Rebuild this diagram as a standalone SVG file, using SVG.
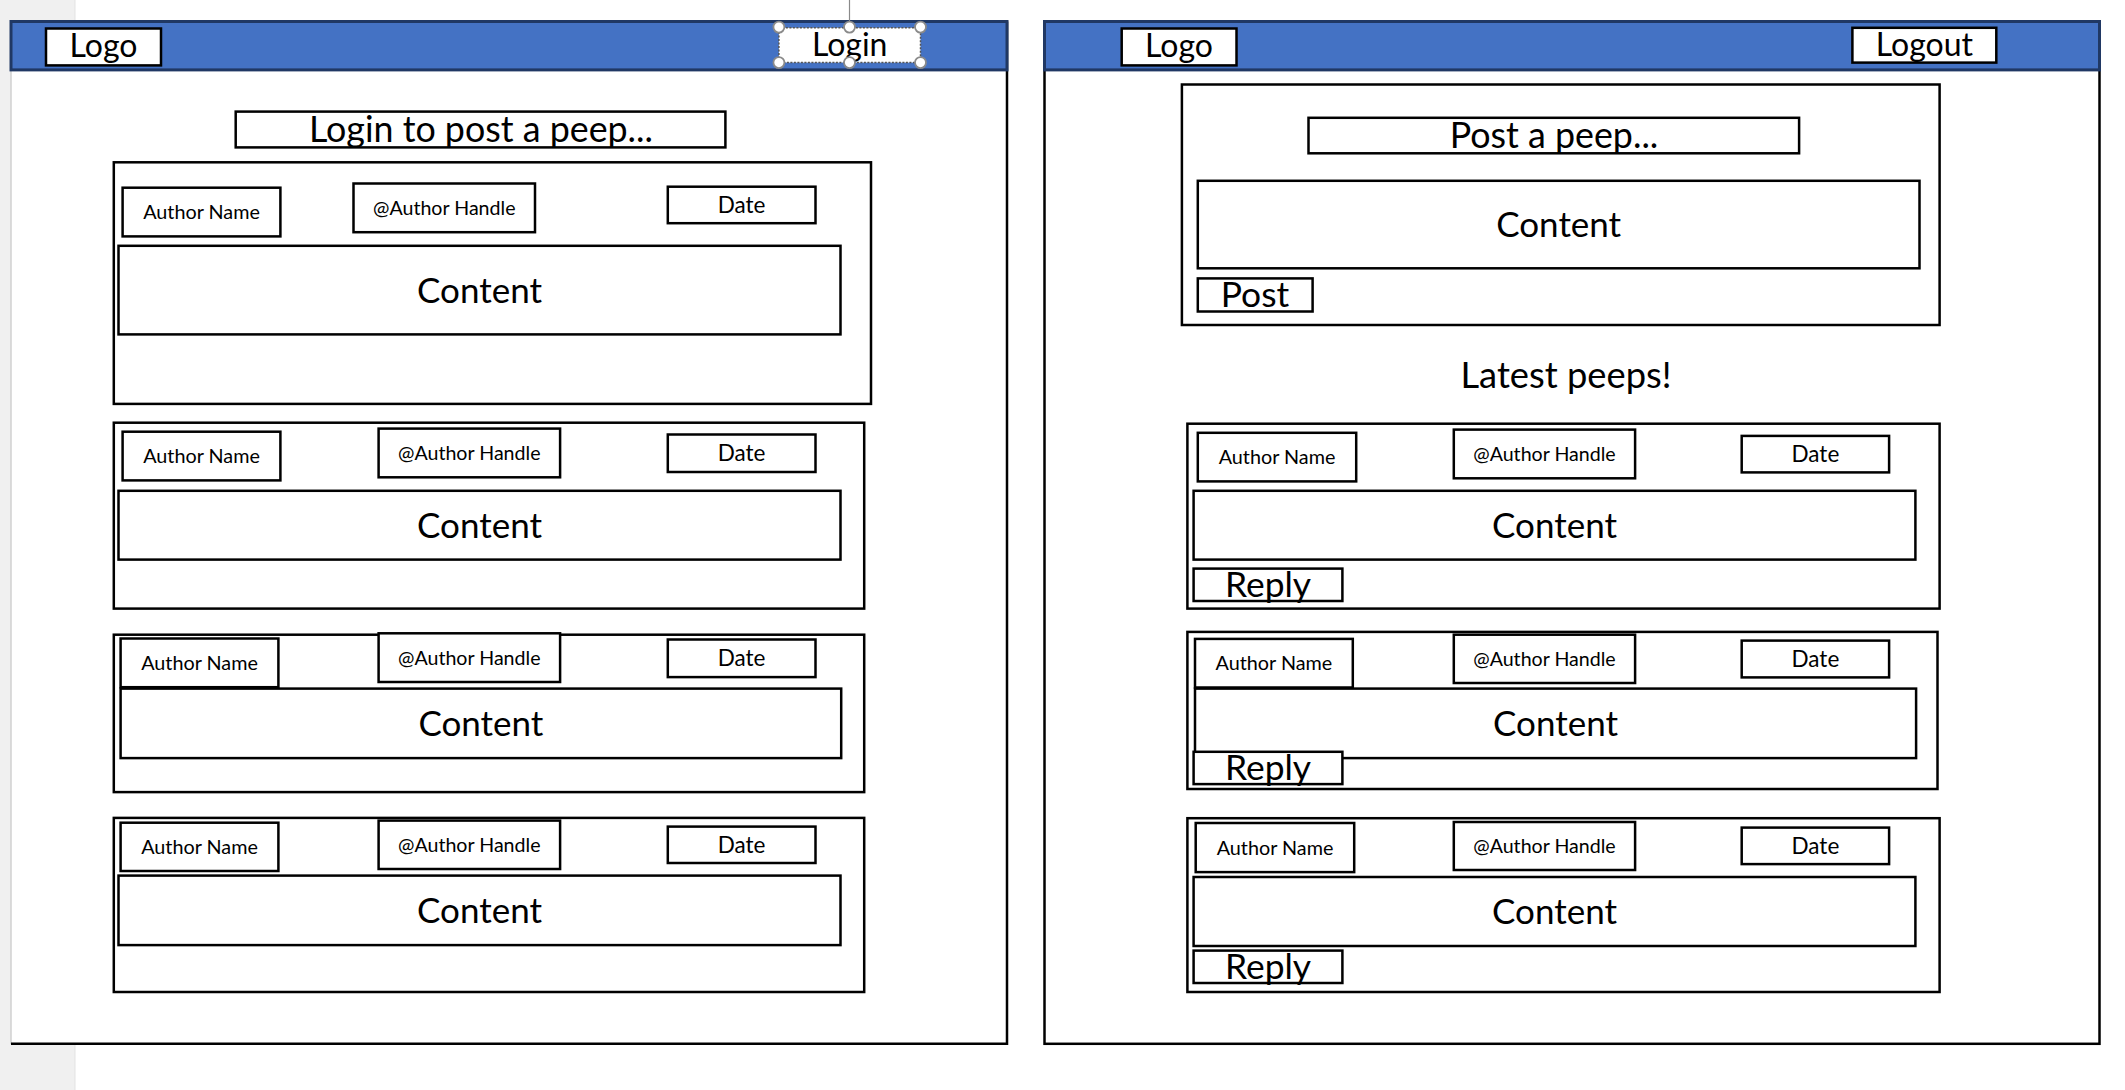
<svg xmlns="http://www.w3.org/2000/svg" width="2125" height="1090" viewBox="0 0 2125 1090">
<style>
.box{fill:#fff;stroke:#000;stroke-width:2.5}
.card{fill:#fff;stroke:#000;stroke-width:2.5}
.hdr{fill:#4472C4;stroke:#203864;stroke-width:3}
.frame{fill:none;stroke:#000;stroke-width:2.5}
.t{font-family:Lato,"Liberation Sans",sans-serif;fill:#000;text-anchor:middle}
.an{font-size:19.8px}
.ah{font-size:19.6px}
.dt{font-size:22.5px}
.hd{font-size:32px}
.btn{font-size:35.4px}
.ttl{font-size:35.8px}
.ct{font-size:35px}
.lp{font-size:36.3px}
.handle{fill:#fff;stroke:#8a8a8a;stroke-width:1.8}
</style>
<rect x="0" y="0" width="2125" height="1090" fill="#fff"/>
<rect x="0" y="0" width="75" height="1090" fill="#f0f0f0"/>
<line x1="75" y1="0" x2="75" y2="1090" stroke="#e3e3e3" stroke-width="1"/>

<g id="left-page">
  <rect x="11" y="21.5" width="996" height="1022.3" fill="#fff"/>
  <line x1="11" y1="21.5" x2="11" y2="1044" stroke="#d0d0d0" stroke-width="1.5"/>
  <polyline class="frame" points="1007,21.5 1007,1043.8 11,1043.8"/>
  <rect class="hdr" x="11" y="21.5" width="996" height="48.4"/>
</g>
<g id="left-logo">
  <rect class="box" x="46" y="28.5" width="115" height="36.9"/>
  <text class="t hd" x="103.5" y="57">Logo</text>
</g>
<g id="left-login">
  <line x1="849.5" y1="0" x2="849.5" y2="27" stroke="#8a8a8a" stroke-width="1.2"/>
  <rect x="778.9" y="27.8" width="141.6" height="34.8" fill="#fff" stroke="#555" stroke-width="1.5" stroke-dasharray="2,1.5"/>
  <text class="t hd" x="849.7" y="56">Login</text>
  <circle class="handle" cx="778.9" cy="27.1" r="5.5"/>
  <circle class="handle" cx="849.5" cy="27.1" r="5.5"/>
  <circle class="handle" cx="920.5" cy="27.1" r="5.5"/>
  <circle class="handle" cx="778.9" cy="62.6" r="5.5"/>
  <circle class="handle" cx="849.5" cy="62.6" r="5.5"/>
  <circle class="handle" cx="920.5" cy="62.6" r="5.5"/>
</g>
<g id="left-login-prompt">
  <rect class="box" x="235.7" y="111.6" width="489.7" height="35.8"/>
  <text class="t ttl" x="481" y="142">Login to post a peep...</text>
</g>

<g id="left-card-1">
  <rect class="card" x="113.8" y="162.3" width="757.2" height="241.6"/>
  <rect class="box" x="122.6" y="187.7" width="157.8" height="48.7"/>
  <text class="t an" x="201.5" y="219">Author Name</text>
  <rect class="box" x="353.5" y="183.5" width="181.5" height="48.7"/>
  <text class="t ah" x="444.3" y="214.8">@Author Handle</text>
  <rect class="box" x="667.8" y="186.7" width="147.7" height="36.5"/>
  <text class="t dt" x="741.6" y="213">Date</text>
  <rect class="box" x="118.5" y="245.8" width="722" height="88.6"/>
  <text class="t ct" x="479.5" y="302.5">Content</text>
</g>
<g id="left-card-2">
  <rect class="card" x="113.8" y="422.7" width="750.4" height="185.9"/>
  <rect class="box" x="122.6" y="431.7" width="157.8" height="48.7"/>
  <text class="t an" x="201.5" y="463">Author Name</text>
  <rect class="box" x="378.6" y="428.6" width="181.5" height="48.7"/>
  <text class="t ah" x="469.3" y="460">@Author Handle</text>
  <rect class="box" x="667.8" y="434.5" width="147.7" height="37.5"/>
  <text class="t dt" x="741.6" y="461.2">Date</text>
  <rect class="box" x="118.5" y="490.8" width="722" height="68.8"/>
  <text class="t ct" x="479.5" y="537.6">Content</text>
</g>
<g id="left-card-3">
  <rect class="card" x="113.8" y="634.7" width="750.4" height="157.4"/>
  <rect class="box" x="120.6" y="638.5" width="157.8" height="48.7"/>
  <text class="t an" x="199.5" y="669.8">Author Name</text>
  <rect class="box" x="378.6" y="633.3" width="181.5" height="48.7"/>
  <text class="t ah" x="469.3" y="664.7">@Author Handle</text>
  <rect class="box" x="667.8" y="639.5" width="147.7" height="37.6"/>
  <text class="t dt" x="741.6" y="666.3">Date</text>
  <rect class="box" x="120.6" y="688.6" width="720.6" height="69.5"/>
  <text class="t ct" x="480.9" y="735.7">Content</text>
</g>
<g id="left-card-4">
  <rect class="card" x="113.8" y="817.9" width="750.4" height="174.1"/>
  <rect class="box" x="120.6" y="822.7" width="157.8" height="48.3"/>
  <text class="t an" x="199.5" y="853.8">Author Name</text>
  <rect class="box" x="378.6" y="820.6" width="181.5" height="48.4"/>
  <text class="t ah" x="469.3" y="851.8">@Author Handle</text>
  <rect class="box" x="667.8" y="826.6" width="147.7" height="36.4"/>
  <text class="t dt" x="741.6" y="852.8">Date</text>
  <rect class="box" x="118.5" y="875.6" width="722" height="69.5"/>
  <text class="t ct" x="479.5" y="922.7">Content</text>
</g>

<g id="right-page">
  <rect class="frame" x="1044.5" y="21.5" width="1055" height="1022.3" fill="#fff"/>
  <rect class="hdr" x="1044.5" y="21.5" width="1055" height="48.4"/>
</g>
<g id="right-logo">
  <rect class="box" x="1121.7" y="28.5" width="114.8" height="36.9"/>
  <text class="t hd" x="1179" y="57">Logo</text>
</g>
<g id="right-logout">
  <rect class="box" x="1852.4" y="27.8" width="143.9" height="34.8"/>
  <text class="t hd" x="1924.4" y="56">Logout</text>
</g>
<g id="right-post-form">
  <rect class="card" x="1181.9" y="84.5" width="757.7" height="240.5"/>
  <rect class="box" x="1308.5" y="117.8" width="490.6" height="35.5"/>
  <text class="t ttl" x="1554" y="148">Post a peep...</text>
  <rect class="box" x="1197.8" y="180.8" width="721.7" height="87.5"/>
  <text class="t ct" x="1558.7" y="237">Content</text>
  <rect class="box" x="1197.8" y="278.4" width="114.8" height="33.1"/>
  <text class="t btn" x="1255" y="306.6">Post</text>
</g>
<g id="right-latest-title">
  <text class="t lp" x="1566" y="388">Latest peeps!</text>
</g>
<g id="right-card-1">
  <rect class="card" x="1187.4" y="423.7" width="752.2" height="184.9"/>
  <rect class="box" x="1197.8" y="432.8" width="158.4" height="48.6"/>
  <text class="t an" x="1277" y="464.1">Author Name</text>
  <rect class="box" x="1453.8" y="429.6" width="181.3" height="48.7"/>
  <text class="t ah" x="1544.5" y="461">@Author Handle</text>
  <rect class="box" x="1741.7" y="435.9" width="147.4" height="36.5"/>
  <text class="t dt" x="1815.4" y="462.2">Date</text>
  <rect class="box" x="1193.6" y="490.8" width="721.8" height="68.8"/>
  <text class="t ct" x="1554.5" y="537.6">Content</text>
  <rect class="box" x="1193.6" y="568.6" width="148.8" height="32.4"/>
  <text class="t btn" x="1268" y="597">Reply</text>
</g>
<g id="right-card-2">
  <rect class="card" x="1187.4" y="631.9" width="750.1" height="157.1"/>
  <rect class="box" x="1195" y="638.9" width="157.8" height="48.6"/>
  <text class="t an" x="1273.9" y="670.2">Author Name</text>
  <rect class="box" x="1453.8" y="634.7" width="181.3" height="48.3"/>
  <text class="t ah" x="1544.5" y="665.9">@Author Handle</text>
  <rect class="box" x="1741.7" y="640.6" width="147.4" height="36.8"/>
  <text class="t dt" x="1815.4" y="667">Date</text>
  <rect class="box" x="1195" y="688.6" width="721.1" height="69.5"/>
  <text class="t ct" x="1555.5" y="735.7">Content</text>
  <rect class="box" x="1193.6" y="751.8" width="148.8" height="32.3"/>
  <text class="t btn" x="1268" y="779.6">Reply</text>
</g>
<g id="right-card-3">
  <rect class="card" x="1187.4" y="818.2" width="752.2" height="173.8"/>
  <rect class="box" x="1195.7" y="823" width="158.5" height="49.1"/>
  <text class="t an" x="1275" y="854.5">Author Name</text>
  <rect class="box" x="1453.8" y="822" width="181.3" height="48"/>
  <text class="t ah" x="1544.5" y="853">@Author Handle</text>
  <rect class="box" x="1741.7" y="827.6" width="147.4" height="36.5"/>
  <text class="t dt" x="1815.4" y="853.8">Date</text>
  <rect class="box" x="1193.6" y="877" width="721.8" height="69"/>
  <text class="t ct" x="1554.5" y="923.9">Content</text>
  <rect class="box" x="1193.6" y="950.6" width="148.8" height="32.4"/>
  <text class="t btn" x="1268" y="978.8">Reply</text>
</g>
<g id="connectors"/>
</svg>
